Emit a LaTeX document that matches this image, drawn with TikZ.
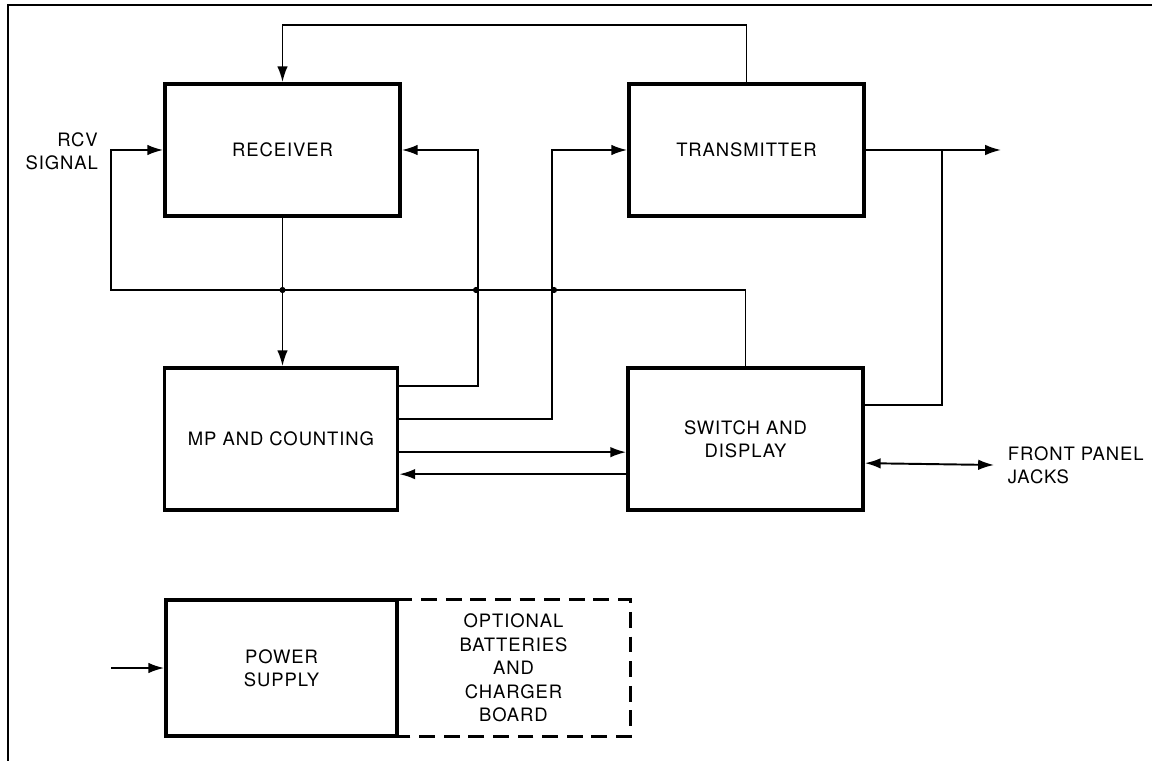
\documentclass[tikz,border=0pt]{standalone}
\usepackage{fontspec}
\setsansfont{TeX Gyre Heros}[LetterSpace=5]
\usepackage{tikz}
\usetikzlibrary{arrows.meta,calc}

\tikzset{
  txt/.style={font=\sffamily\fontsize{10.5}{13.3}\selectfont},
  blk/.style={txt, draw, line width=2.1pt, align=center, inner sep=0pt},
  wire/.style={line width=1.1pt},
  arr/.style={wire, -{Latex[length=9pt,width=6pt]}},
  dbl/.style={wire, {Latex[length=9pt,width=6pt]}-{Latex[length=9pt,width=6pt]}},
  dot/.style={circle, fill, inner sep=0pt, minimum size=3.5pt},
}

\begin{document}
\begin{tikzpicture}
  \useasboundingbox (0,0) rectangle (23.04,-15.22);
  % Frame
  \draw[line width=1pt] (0.16,-15.22) -- (0.16,-0.1) -- (23.04,-0.1);

  % Blocks
  \node[blk, minimum width=4.7cm, minimum height=2.64cm] (rcv) at (5.65,-3.0) {RECEIVER};
  \node[blk, minimum width=4.7cm, minimum height=2.64cm] (xmit) at (14.93,-3.0) {TRANSMITTER};
  \node[blk, minimum width=4.66cm, minimum height=2.84cm] (mp) at (5.62,-8.78) {MP AND COUNTING};
  \node[blk, minimum width=4.7cm, minimum height=2.84cm] (sd) at (14.91,-8.78) {SWITCH AND\\DISPLAY};
  \node[blk, minimum width=4.62cm, minimum height=2.72cm] (psu) at (5.63,-13.36) {POWER\\SUPPLY};
  \node[txt, align=center, minimum width=4.66cm, minimum height=2.72cm] (opt) at (10.27,-13.36) {OPTIONAL\\BATTERIES\\AND\\CHARGER\\BOARD};
  \draw[line width=2.1pt, dash pattern=on 9pt off 5pt] (opt.north west) -- (opt.north east) -- (opt.south east) -- (opt.south west);

  % Free ends
  \coordinate (busL) at (2.22,-5.8);
  \coordinate (xout) at (20.02,-3.0);
  \coordinate (xtap) at (18.84,-3.0);
  \coordinate (jack) at (19.88,-9.3);
  \coordinate (pin) at (2.22,-13.36);

  % Receive path
  \draw[arr] (sd.north) |- (busL) |- (rcv.west);
  \node[txt, align=right, anchor=east] (rcvlbl) at (2.08,-3.02) {RCV\\SIGNAL};
  \draw[arr] (rcv.south) -- (rcv.south |- mp.north);
  \draw[arr] (xmit.north) -- ++(0,1.14) -| (rcv.north);

  % MP outputs
  \draw[arr] ([yshift=-0.4cm]mp.north east) -| ([xshift=1.52cm]rcv.east) -- (rcv.east);
  \draw[arr] ([yshift=-1.06cm]mp.north east) -| ([xshift=-1.5cm]xmit.west) -- (xmit.west);
  \draw[arr] ([yshift=-1.72cm]mp.north east) -- ([yshift=-1.72cm]sd.north west);
  \draw[arr] ([yshift=-2.16cm]sd.north west) -- ([yshift=-2.16cm]mp.north east);

  % Junctions
  \node[dot] (j1) at (rcv.south |- busL) {};
  \node[dot] (j2) at (9.52,-5.8) {};
  \node[dot] (j3) at (11.08,-5.8) {};

  % Transmitter output
  \draw[arr] (xmit.east) -- (xout);
  \draw[wire] ([yshift=-0.78cm]sd.north east) -| (xtap);

  % Front panel
  \draw[dbl] ([yshift=-1.94cm]sd.north east) -- (jack);
  \node[txt, align=left, anchor=west, inner sep=2pt] (jacklbl) at ([xshift=0.2cm]jack) {FRONT PANEL\\JACKS};

  % Power
  \draw[arr] (pin) -- (psu.west);
\end{tikzpicture}
\end{document}
